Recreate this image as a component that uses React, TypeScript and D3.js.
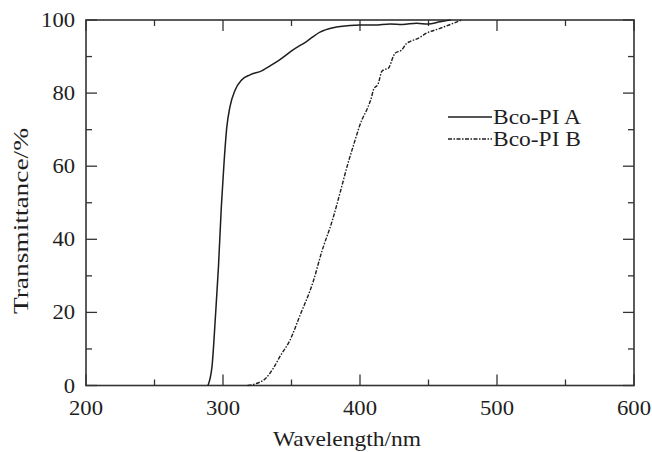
import React, { useEffect, useRef } from "react";
import * as d3 from "d3";

// wavelength (nm), transmittance (%)
const seriesAWave = [
  289, 292, 294.5, 296.7, 298.8, 300.6, 302.7, 305.1, 308.8, 313.6, 319.7, 328.2, 335.5,
  341.3, 351.1, 360.9, 370.8, 380.5, 392.7, 400, 410.6, 421.9, 431, 441.3, 449.6, 458.4, 466,
];
const seriesAValue = [
  0, 5.3, 19, 32.6, 49, 60, 70.4, 76.3, 80.8, 83.6, 85, 86.1, 87.7,
  89.1, 91.8, 94.1, 96.7, 97.9, 98.5, 98.6, 98.6, 98.9, 98.8, 99.1, 98.9, 99.5, 100,
];

const seriesBWave = [
  318, 324, 331.6, 336.7, 342, 348.9, 356.2, 365.9, 372, 380, 386, 391, 394.9, 401.3, 404.9,
  408.5, 409.7, 413.4, 415.8, 417, 420.7, 424.3, 425.5, 430.4, 434, 436.5, 442.5, 448.6,
  458.4, 474.2,
];
const seriesBValue = [
  0, 0.5, 2.1, 4.7, 8.2, 12.4, 19.2, 28.5, 36.5, 45.4, 53.5, 60.5, 65.3, 72.6, 75.4,
  79, 80.8, 82.7, 85.9, 86.3, 86.8, 90, 90.9, 91.8, 93.6, 94.1, 95, 96.4,
  97.7, 100,
];

const xTicks = [200, 300, 400, 500, 600];
const yTicks = [0, 20, 40, 60, 80, 100];
const legendLabels = ["Bco-PI A", "Bco-PI B"];

const W = 652;
const H = 452;
const FONT = "'Liberation Serif', 'Times New Roman', serif";
const INK = "#1e1e1e";

const App: React.FC = () => {
  const ref = useRef<SVGSVGElement>(null);

  useEffect(() => {
    if (!ref.current) return;
    const svg = d3.select(ref.current);
    svg.selectAll("*").remove();

    const left = 86, right = 634, top = 20, bottom = 385.5;
    const x = d3.scaleLinear().domain([200, 600]).range([left, right]);
    const y = d3.scaleLinear().domain([0, 100]).range([bottom, top]);

    svg.append("rect").attr("width", W).attr("height", H).attr("fill", "#fff");

    // ticks, inward on all sides
    const g = svg.append("g").attr("stroke", "#333").attr("stroke-width", 1.3);
    d3.range(200, 601, 50).forEach((v) => {
      const len = v % 100 === 0 ? 11 : 6;
      g.append("line").attr("x1", x(v)).attr("x2", x(v)).attr("y1", bottom).attr("y2", bottom - len);
      g.append("line").attr("x1", x(v)).attr("x2", x(v)).attr("y1", top).attr("y2", top + len);
    });
    d3.range(0, 101, 10).forEach((v) => {
      const len = v % 20 === 0 ? 11 : 6;
      g.append("line").attr("x1", left).attr("x2", left + len).attr("y1", y(v)).attr("y2", y(v));
      g.append("line").attr("x1", right).attr("x2", right - len).attr("y1", y(v)).attr("y2", y(v));
    });

    // frame
    svg
      .append("rect")
      .attr("x", left)
      .attr("y", top)
      .attr("width", right - left)
      .attr("height", bottom - top)
      .attr("fill", "none")
      .attr("stroke", "#333")
      .attr("stroke-width", 1.6);

    const line = d3
      .line<[number, number]>()
      .x((d) => x(d[0]))
      .y((d) => y(d[1]))
      .curve(d3.curveMonotoneX);

    const dataA = seriesAWave.map((w, i) => [w, seriesAValue[i]] as [number, number]);
    const dataB = seriesBWave.map((w, i) => [w, seriesBValue[i]] as [number, number]);

    svg
      .append("path")
      .datum(dataA)
      .attr("d", line)
      .attr("fill", "none")
      .attr("stroke", INK)
      .attr("stroke-width", 1.5);

    svg
      .append("path")
      .datum(dataB)
      .attr("d", line)
      .attr("fill", "none")
      .attr("stroke", INK)
      .attr("stroke-width", 1.4)
      .attr("stroke-dasharray", "4,1.5,1.5,1.5");

    const addText = (
      tx: number,
      ty: number,
      s: string,
      len: number,
      anchor: string,
      transform?: string
    ) =>
      svg
        .append("text")
        .attr("x", tx)
        .attr("y", ty)
        .attr("transform", transform ?? null)
        .attr("text-anchor", anchor)
        .style("font-family", FONT)
        .style("font-size", "21px")
        .attr("fill", INK)
        .attr("textLength", len)
        .attr("lengthAdjust", "spacingAndGlyphs")
        .text(s);

    // tick labels
    xTicks.forEach((v) => addText(x(v), 415, String(v), 34, "middle"));
    yTicks.forEach((v) => {
      const s = String(v);
      addText(75, y(v) + 7, s, s.length * 11.3, "end");
    });

    // axis titles
    addText(347, 446, "Wavelength/nm", 148, "middle");
    addText(0, 0, "Transmittance/%", 186, "middle", "translate(28,221) rotate(-90)");

    // legend
    const legendY = [120, 142];
    legendLabels.forEach((label, i) => {
      svg
        .append("line")
        .attr("x1", 448)
        .attr("x2", 492)
        .attr("y1", legendY[i] - 3)
        .attr("y2", legendY[i] - 3)
        .attr("stroke", INK)
        .attr("stroke-width", 1.4)
        .attr("stroke-dasharray", i === 0 ? null : "4,1.5,1.5,1.5");
      addText(493, legendY[i] + 4, label, 88, "start");
    });
  }, []);

  return (
    <svg
      ref={ref}
      width={W}
      height={H}
      style={{ position: "absolute", left: 0, top: 0, display: "block" }}
    />
  );
};

export default App;
